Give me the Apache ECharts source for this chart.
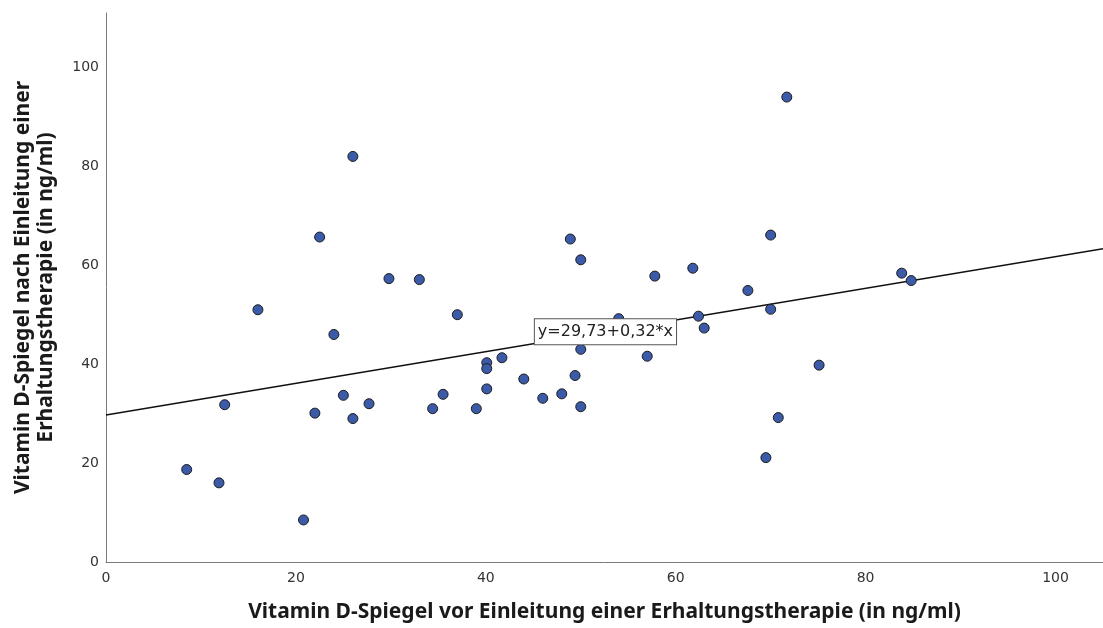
<!DOCTYPE html>
<html>
<head>
<meta charset="utf-8">
<script src="https://cdn.jsdelivr.net/npm/echarts@6/dist/echarts.min.js"></script>
<style>
  html, body { margin: 0; padding: 0; background: #fff; }
  #chart { width: 1103px; height: 628px; }
</style>
</head>
<body>
<div id="chart"></div>
<script>
// Vitamin D vor Einleitung (x) / nach Einleitung (y), in ng/ml
var vorWerte = [8.5, 11.9, 12.5, 16.0, 20.8, 22.0, 22.5, 24.0, 25.0, 26.0, 26.0, 27.7, 29.8, 33.0, 34.4,
  35.5, 37.0, 39.0, 40.1, 40.1, 40.1, 41.7, 44.0, 46.0, 48.0, 48.9, 49.4, 50.0, 50.0, 50.0,
  54.0, 57.0, 57.8, 61.8, 62.4, 63.0, 67.6, 69.5, 70.0, 70.0, 70.8, 71.7, 75.1, 83.8, 84.8];
var nachWerte = [18.7, 16.0, 31.8, 51.0, 8.5, 30.1, 65.7, 46.0, 33.7, 29.0, 82.0, 32.0, 57.3, 57.1, 31.0,
  33.9, 50.0, 31.0, 40.3, 39.1, 35.0, 41.3, 37.0, 33.1, 34.0, 65.3, 37.7, 61.1, 43.0, 31.4,
  49.2, 41.6, 57.8, 59.4, 49.7, 47.3, 54.9, 21.1, 66.1, 51.1, 29.2, 94.0, 39.8, 58.4, 56.9];

// Regressionsgerade y = 29,73 + 0,32*x
var fitX = [0, 105];
var fitY = [29.73, 63.33];
var fitLabel = "y=29,73+0,32*x";
var fitLabelPos = [52.6, 46.56];

var xTicks = [0, 20, 40, 60, 80, 100];
var yTicks = [0, 20, 40, 60, 80, 100];

var punkte = [];
for (var i = 0; i < vorWerte.length; i++) {
  punkte.push([vorWerte[i], nachWerte[i]]);
}
var linie = [];
for (var j = 0; j < fitX.length; j++) {
  linie.push([fitX[j], fitY[j]]);
}

var myChart = echarts.init(document.getElementById("chart"));
var option = {
  animation: false,
  backgroundColor: "#fff",
  grid: {
    left: 106,
    right: 0,
    top: 13,
    bottom: 66,
    containLabel: false,
    outerBoundsMode: "none",
  },
  xAxis: {
    type: "value",
    min: 0,
    max: 105,
    interval: 20,
    name: "Vitamin D-Spiegel vor Einleitung einer Erhaltungstherapie (in ng/ml)",
    nameLocation: "middle",
    nameGap: 40,
    nameTextStyle: {
      fontFamily: "Noto Sans",
      fontWeight: "bold",
      fontSize: 21,
      color: "#1a1a1a",
    },
    axisLine: { lineStyle: { color: "#7a7a7a", width: 1 } },
    axisTick: { show: false },
    splitLine: { show: false },
    axisLabel: {
      color: "#333",
      fontSize: 14,
      fontFamily: "DejaVu Sans",
      margin: 9,
      formatter: function (v) {
        return xTicks.indexOf(v) >= 0 ? String(v) : "";
      },
    },
  },
  yAxis: {
    type: "value",
    min: 0,
    max: 111,
    interval: 20,
    name: "Vitamin D-Spiegel nach Einleitung einer\nErhaltungstherapie (in ng/ml)",
    nameLocation: "middle",
    nameGap: 48,
    nameRotate: 90,
    nameTextStyle: {
      fontFamily: "Noto Sans",
      fontWeight: "bold",
      fontSize: 21,
      lineHeight: 23,
      color: "#1a1a1a",
      align: "center",
    },
    axisLine: { show: true, lineStyle: { color: "#7a7a7a", width: 1 } },
    axisTick: { show: false },
    splitLine: { show: false },
    axisLabel: {
      color: "#333",
      fontSize: 14,
      fontFamily: "DejaVu Sans",
      margin: 7,
      formatter: function (v) {
        return yTicks.indexOf(v) >= 0 ? String(v) : "";
      },
    },
  },
  series: [
    {
      type: "line",
      data: linie,
      z: 1,
      symbol: "none",
      silent: true,
      lineStyle: { color: "#111", width: 1.5 },
      markPoint: {
        symbol: "rect",
        symbolSize: 1,
        itemStyle: { color: "rgba(0,0,0,0)" },
        data: [{ coord: fitLabelPos }],
        label: {
          show: true,
          position: "inside",
          formatter: fitLabel,
          color: "#222",
          fontSize: 16,
          fontFamily: "DejaVu Sans",
          backgroundColor: "#fff",
          borderColor: "#555",
          borderWidth: 1,
          padding: [5, 3, 4, 3],
        },
      },
    },
    {
      type: "scatter",
      data: punkte,
      z: 2,
      symbol: "circle",
      symbolSize: 10,
      itemStyle: {
        color: "#3b5ba8",
        borderColor: "#1c1c1c",
        borderWidth: 1,
        opacity: 1,
      },
    },
  ],
};
myChart.setOption(option, true);
</script>
</body>
</html>
